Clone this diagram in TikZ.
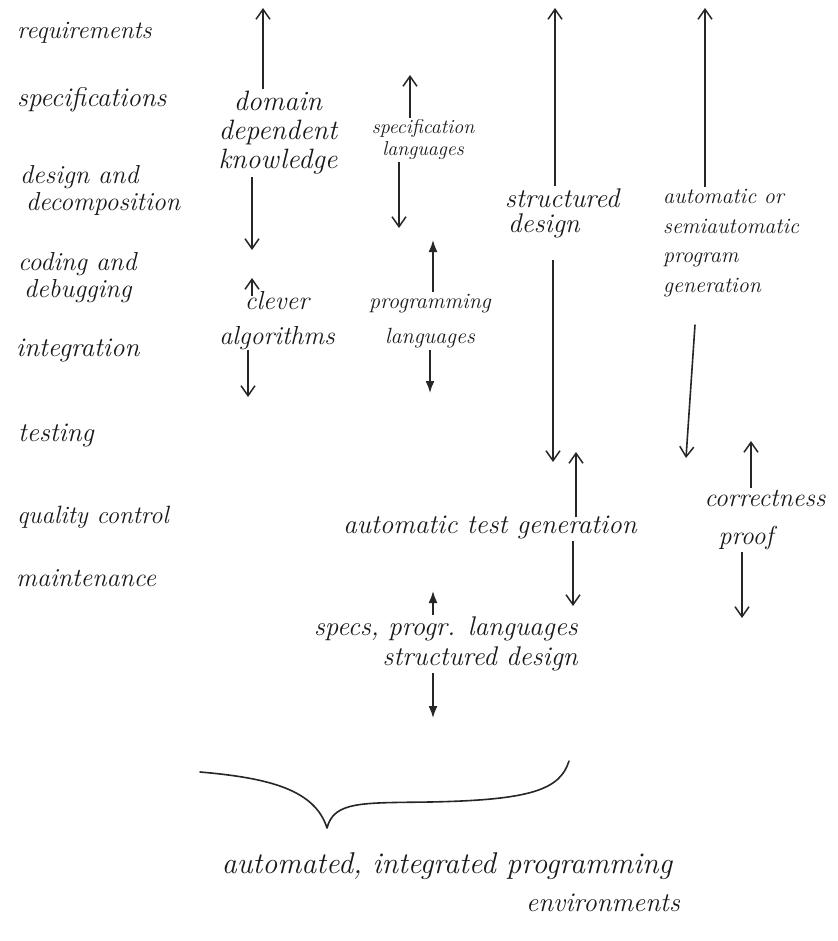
\documentclass[tikz,border=0pt]{standalone}
\usetikzlibrary{arrows.meta}

% handwritten-looking text: italic Latin Modern, size and line distance given
\newcommand{\handtxt}[2]{\fontsize{#1}{#2}\selectfont\itshape}

\tikzset{
  hw/.style={font=\handtxt{26}{30}, inner sep=2pt, text=black!90},
  hwl/.style={hw, anchor=west, align=left},
  hwc/.style={hw, align=center},
  oarr/.style={line width=1.6pt, black!85, -{Straight Barb[length=10pt,width=14pt,line width=1.5pt]}},
  farr/.style={line width=1.6pt, black!85, -{Latex[length=12pt,width=9pt]}},
  bracestroke/.style={line width=1.6pt, black!85, line cap=round, line join=round}
}

\begin{document}
\begin{tikzpicture}[x=1pt,y=-1pt]
\useasboundingbox[fill=white] (0,0) rectangle (837,941);

% ---- phases of the life cycle (left column)
\node[hwl, font=\handtxt{25}{28}] (req) at (15,33) {requirements};
\node[hwl, font=\handtxt{27}{28}] (spc) at (15,100) {specifications};
\node[hwl, font=\handtxt{26}{27}] (dsn) at (18,191) {design and\\\hspace*{6pt}decomposition};
\node[hwl, font=\handtxt{26}{27}] (cod) at (16,278) {coding and\\\hspace*{6pt}debugging};
\node[hwl, font=\handtxt{27}{30}] (itg) at (14,350) {integration};
\node[hwl, font=\handtxt{27}{28}] (tst) at (16,435) {testing};
\node[hwl, font=\handtxt{25}{28}] (qc)  at (15,517) {quality control};
\node[hwl, font=\handtxt{26}{28}] (mnt) at (14,578) {maintenance};

% ---- tools and techniques
\node[hwc, font=\handtxt{28}{29}] (dk) at (278,133) {domain\\dependent\\knowledge};
\node[hwc, font=\handtxt{26}{35}] (ca) at (277,321) {clever\\algorithms};
\node[hwc, font=\handtxt{20}{22}] (sl) at (423,140) {specification\\languages};
\node[hwc, font=\handtxt{22}{35}] (pl) at (430,321) {programming\\languages};
\node[hw, anchor=west, align=left, font=\handtxt{27}{25}] (sd) at (503,213) {structured\\\hspace*{3pt}design};
\node[hw, anchor=north west, align=left, font=\handtxt{22}{29.5}] (ag) at (661,187)
  {automatic or\\semiautomatic\\program\\generation};
\node[hwc, font=\handtxt{27}{30}] (atg) at (490,527) {automatic test generation};
\node[hwc, font=\handtxt{26}{38}] (cp) at (765,520) {correctness\\\hspace*{-38pt}proof};
\node[hw, anchor=east, align=right, font=\handtxt{27}{30}] (sp) at (580,644)
  {specs, progr. languages\\structured design};

% ---- arrow tips
\coordinate (dkU) at (263,8);
\coordinate (dkD) at (252,250);
\coordinate (caU) at (252,278);
\coordinate (caD) at (248,397);
\coordinate (slU) at (410,75);
\coordinate (slD) at (399,228);
\coordinate (plU) at (433,240);
\coordinate (plD) at (430,393);
\coordinate (sdU) at (555,8);
\coordinate (sdD) at (553,462);
\coordinate (agU) at (705,8);
\coordinate (agD) at (686,458);
\coordinate (atgU) at (576,452);
\coordinate (atgD) at (573,606);
\coordinate (cpU) at (751,441);
\coordinate (cpD) at (742,618);
\coordinate (spU) at (433,591);
\coordinate (spD) at (433,718);

% ---- arrows
\draw[oarr] (dk.north -| dkU) -- (dkU);
\draw[oarr] (dk.south -| dkD) -- (dkD);
\draw[oarr] ([yshift=-6pt]ca.north -| caU) -- (caU);
\draw[oarr] ([yshift=2pt]ca.south -| caD) -- (caD);
\draw[oarr] (sl.north -| slU) -- (slU);
\draw[oarr] (sl.south -| slD) -- (slD);
\draw[farr] (pl.north -| plU) -- (plU);
\draw[farr] (pl.south -| plD) -- (plD);
\draw[oarr] (sd.north -| sdU) -- (sdU);
\draw[oarr] ([yshift=-20pt]sd.south -| sdD) -- (sdD);
\draw[oarr] (ag.north -| agU) -- (agU);
\draw[oarr] ([xshift=9pt,yshift=-26pt]ag.south -| agD) -- (agD);
\draw[oarr] ([yshift=-4pt]atg.north -| atgU) -- (atgU);
\draw[oarr] (atg.south -| atgD) -- (atgD);
\draw[oarr] (cp.north -| cpU) -- (cpU);
\draw[oarr] (cp.south -| cpD) -- (cpD);
\draw[farr] (sp.north -| spU) -- (spU);
\draw[farr] (sp.south -| spD) -- (spD);

% ---- curly brace gathering everything
\coordinate (brL) at (200,772);
\coordinate (brC) at (327,828);
\coordinate (brR) at (569,761);
\draw[bracestroke] (brL) .. controls (270,778) and (315,790) .. (brC)
  .. controls (334,801) and (362,803) .. (430,802)
  .. controls (530,800) and (560,790) .. (brR);

% ---- conclusion
\node[hwc, font=\handtxt{30}{32}] (env1) at (447,866) {automated, integrated programming};
\node[hwc, font=\handtxt{27}{32}] (env2) at (603,903) {environments};
\end{tikzpicture}
\end{document}
